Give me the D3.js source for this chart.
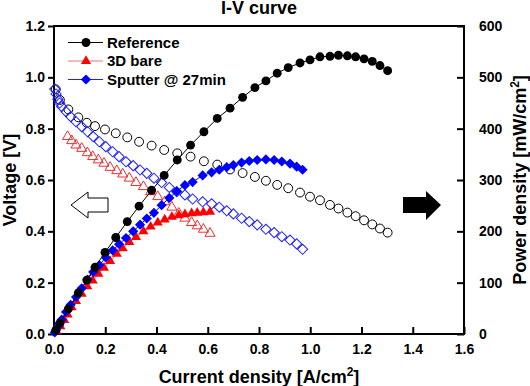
<!DOCTYPE html>
<html>
<head>
<meta charset="utf-8">
<script src="https://d3js.org/d3.v7.min.js"></script>
<style>
  body { margin: 0; background: #fff; }
  text { font-family: "Liberation Sans", Arial, sans-serif; font-weight: bold; }
</style>
</head>
<body>
<div id="my_dataviz"></div>
<script>
// Reference cell
var refCurrent = [0.007, 0.023, 0.056, 0.095, 0.128, 0.160, 0.199, 0.241, 0.286, 0.332, 0.381, 0.430, 0.481, 0.533, 0.585, 0.637, 0.687, 0.736, 0.784, 0.827, 0.871, 0.914, 0.960, 0.999, 1.038, 1.077, 1.110, 1.145, 1.177, 1.210, 1.242, 1.272, 1.302];
var refVoltage = [0.953, 0.912, 0.875, 0.844, 0.823, 0.810, 0.797, 0.782, 0.766, 0.749, 0.734, 0.717, 0.704, 0.691, 0.673, 0.660, 0.641, 0.627, 0.612, 0.597, 0.581, 0.568, 0.551, 0.535, 0.521, 0.503, 0.489, 0.473, 0.459, 0.443, 0.427, 0.411, 0.395];
var refPower = [7, 21, 49, 80, 105, 130, 159, 188, 219, 249, 280, 309, 339, 368, 394, 420, 440, 461, 480, 493, 508, 519, 528, 534, 540, 541, 543, 542, 540, 536, 531, 523, 513];

// 3D bare
var bareCurrent = [0.053, 0.069, 0.086, 0.108, 0.130, 0.151, 0.173, 0.195, 0.219, 0.245, 0.268, 0.294, 0.320, 0.349, 0.377, 0.405, 0.432, 0.460, 0.487, 0.511, 0.537, 0.559, 0.583, 0.609];
var bareVoltage = [0.769, 0.753, 0.736, 0.723, 0.706, 0.691, 0.678, 0.665, 0.649, 0.636, 0.623, 0.607, 0.590, 0.574, 0.554, 0.535, 0.515, 0.494, 0.470, 0.451, 0.434, 0.421, 0.408, 0.392];
var barePowerCurrent = [0.010, 0.025, 0.040, 0.053, 0.069, 0.086, 0.108, 0.130, 0.151, 0.173, 0.195, 0.219, 0.245, 0.268, 0.294, 0.320, 0.349, 0.377, 0.405, 0.432, 0.460, 0.487, 0.511, 0.537, 0.559, 0.583, 0.609];
var barePower = [5, 15, 27, 38, 52, 64, 78, 93, 104, 117, 129, 142, 156, 167, 179, 189, 200, 209, 217, 223, 228, 231, 233, 235, 236, 237, 238];

// Sputter @ 27min
var sputCurrent = [0.003, 0.008, 0.015, 0.022, 0.030, 0.047, 0.065, 0.086, 0.108, 0.131, 0.153, 0.177, 0.202, 0.229, 0.254, 0.281, 0.309, 0.336, 0.362, 0.390, 0.420, 0.450, 0.479, 0.511, 0.541, 0.580, 0.615, 0.645, 0.674, 0.700, 0.732, 0.762, 0.793, 0.827, 0.859, 0.889, 0.921, 0.947, 0.970];
var sputVoltage = [0.955, 0.935, 0.915, 0.900, 0.886, 0.866, 0.847, 0.827, 0.808, 0.788, 0.769, 0.749, 0.730, 0.710, 0.691, 0.671, 0.656, 0.639, 0.626, 0.607, 0.590, 0.571, 0.554, 0.542, 0.526, 0.515, 0.507, 0.494, 0.480, 0.468, 0.451, 0.438, 0.425, 0.408, 0.395, 0.379, 0.366, 0.351, 0.330];
var sputPower = [3, 8, 14, 21, 28, 43, 57, 72, 89, 106, 121, 134, 149, 163, 175, 187, 200, 213, 225, 236, 251, 265, 278, 290, 296, 309, 315, 320, 325, 329, 334, 337, 339, 340, 339, 336, 332, 326, 320];

var xTicks = [0.0, 0.2, 0.4, 0.6, 0.8, 1.0, 1.2, 1.4, 1.6];
var vTicks = [0.0, 0.2, 0.4, 0.6, 0.8, 1.0, 1.2];
var pTicks = [0, 100, 200, 300, 400, 500, 600];

var legendNames = ["Reference", "3D bare", "Sputter @ 27min"];

var margin = { top: 26, right: 66, bottom: 52, left: 54 },
    width = 530 - margin.left - margin.right,
    height = 386 - margin.top - margin.bottom;

var svg = d3.select("#my_dataviz")
    .append("svg")
    .attr("width", 530)
    .attr("height", 386);

var g = svg.append("g")
    .attr("transform", "translate(" + margin.left + "," + margin.top + ")");

var x = d3.scaleLinear().domain([0, 1.6]).range([0, width]);
var yV = d3.scaleLinear().domain([0, 1.2]).range([height, 0]);
var yP = d3.scaleLinear().domain([0, 600]).range([height, 0]);

// axes
var xAxis = g.append("g")
    .attr("transform", "translate(0," + height + ")")
    .call(d3.axisBottom(x).tickValues(xTicks).tickFormat(d3.format(".1f")).tickSizeInner(-7).tickSizeOuter(0).tickPadding(10));
var yAxisL = g.append("g")
    .call(d3.axisLeft(yV).tickValues(vTicks).tickFormat(d3.format(".1f")).tickSizeInner(6).tickSizeOuter(0).tickPadding(3));
var yAxisR = g.append("g")
    .attr("transform", "translate(" + width + ",0)")
    .call(d3.axisRight(yP).tickValues(pTicks).tickSizeInner(-7).tickSizeOuter(0).tickPadding(15));

[xAxis, yAxisL, yAxisR].forEach(function(a) {
    a.select(".domain").remove();
    a.selectAll("line").attr("stroke", "#000").attr("stroke-width", 2);
    a.selectAll("text").attr("font-size", 14).attr("fill", "#000")
        .style("font-family", "'Liberation Sans', Arial, sans-serif").style("font-weight", "bold");
});

// frame
g.append("rect")
    .attr("x", 0).attr("y", 0)
    .attr("width", width).attr("height", height)
    .attr("fill", "none")
    .attr("stroke", "#000")
    .attr("stroke-width", 2);

// titles
svg.append("text")
    .attr("x", 259).attr("y", 14)
    .attr("text-anchor", "middle")
    .attr("font-size", 18)
    .text("I-V curve");

var xl = svg.append("text")
    .attr("x", 259).attr("y", 383)
    .attr("text-anchor", "middle")
    .attr("font-size", 18)
    .text("Current density [A/cm");
xl.append("tspan").attr("font-size", 12).attr("dy", -7).text("2");
xl.append("tspan").attr("dy", 7).text("]");

svg.append("text")
    .attr("transform", "translate(16,180) rotate(-90)")
    .attr("text-anchor", "middle")
    .attr("font-size", 18)
    .text("Voltage [V]");

var rl = svg.append("text")
    .attr("transform", "translate(526,180) rotate(-90)")
    .attr("text-anchor", "middle")
    .attr("font-size", 18)
    .text("Power density [mW/cm");
rl.append("tspan").attr("font-size", 12).attr("dy", -7).text("2");
rl.append("tspan").attr("dy", 7).text("]");

// series helpers
var circle = d3.symbol().type(d3.symbolCircle).size(62);
var tri = d3.symbol().type(d3.symbolTriangle).size(44);
var diam = d3.symbol().type(d3.symbolSquare).size(52);

function pts(cur, val) {
    return cur.map(function(c, i) { return [c, val[i]]; });
}

function drawLine(data, yScale, color, w) {
    g.append("path")
        .datum(data)
        .attr("fill", "none")
        .attr("stroke", color)
        .attr("stroke-width", w)
        .attr("d", d3.line()
            .x(function(d) { return x(d[0]); })
            .y(function(d) { return yScale(d[1]); }));
}

function drawMarks(data, yScale, sym, fill, stroke, rot) {
    g.append("g").selectAll("path")
        .data(data)
        .enter()
        .append("path")
        .attr("d", sym)
        .attr("transform", function(d) {
            return "translate(" + x(d[0]) + "," + yScale(d[1]) + ")" + (rot ? " rotate(" + rot + ")" : "");
        })
        .attr("fill", fill)
        .attr("stroke", stroke)
        .attr("stroke-width", 1);
}

// voltage (open) markers
drawMarks(pts(refCurrent, refVoltage), yV, circle, "none", "#000", 0);
drawMarks(pts(sputCurrent, sputVoltage), yV, diam, "none", "#2020ff", 45);
drawMarks(pts(bareCurrent, bareVoltage), yV, tri, "none", "#e83030", 0);

// power (filled) markers + lines
drawLine(pts(barePowerCurrent, barePower), yP, "#f07070", 1);
drawMarks(pts(barePowerCurrent, barePower), yP, tri, "#ff0000", "none", 0);
drawLine(pts(sputCurrent, sputPower), yP, "#0000ff", 1);
drawMarks(pts(sputCurrent, sputPower), yP, diam, "#0000ff", "none", 45);
drawLine(pts(refCurrent, refPower), yP, "#000", 1);
drawMarks(pts(refCurrent, refPower), yP, circle, "#000", "none", 0);

// arrows
var openArrow = [[17, 179], [34, 166], [34, 172], [54, 172], [54, 186], [34, 186], [34, 192]];
g.append("path")
    .attr("d", "M" + openArrow.map(function(p) { return (p[0]) + "," + (p[1]); }).join("L") + "Z")
    .attr("fill", "#fff")
    .attr("stroke", "#000")
    .attr("stroke-width", 1);
var fillArrow = [[387, 179], [372, 165], [372, 171], [349, 171], [349, 187], [372, 187], [372, 194]];
g.append("path")
    .attr("d", "M" + fillArrow.map(function(p) { return (p[0]) + "," + (p[1]); }).join("L") + "Z")
    .attr("fill", "#000");

// legend
var legendColors = ["#000", "#f07070", "#2020ff"];
var legendFill = ["#000", "#ff0000", "#0000ff"];
var legendSym = [circle, tri, diam];
var legendRot = [0, 0, 45];
var leg = svg.append("g");
legendNames.forEach(function(name, i) {
    var ly = 42.5 + i * 18.5;
    leg.append("line")
        .attr("x1", 68).attr("x2", 103)
        .attr("y1", ly).attr("y2", ly)
        .attr("stroke", legendColors[i])
        .attr("stroke-width", 1);
    leg.append("path")
        .attr("d", legendSym[i])
        .attr("transform", "translate(86," + ly + ")" + (legendRot[i] ? " rotate(45)" : ""))
        .attr("fill", legendFill[i]);
    leg.append("text")
        .attr("x", 107).attr("y", ly + 5)
        .attr("font-size", 15)
        .text(name);
});
</script>
</body>
</html>
